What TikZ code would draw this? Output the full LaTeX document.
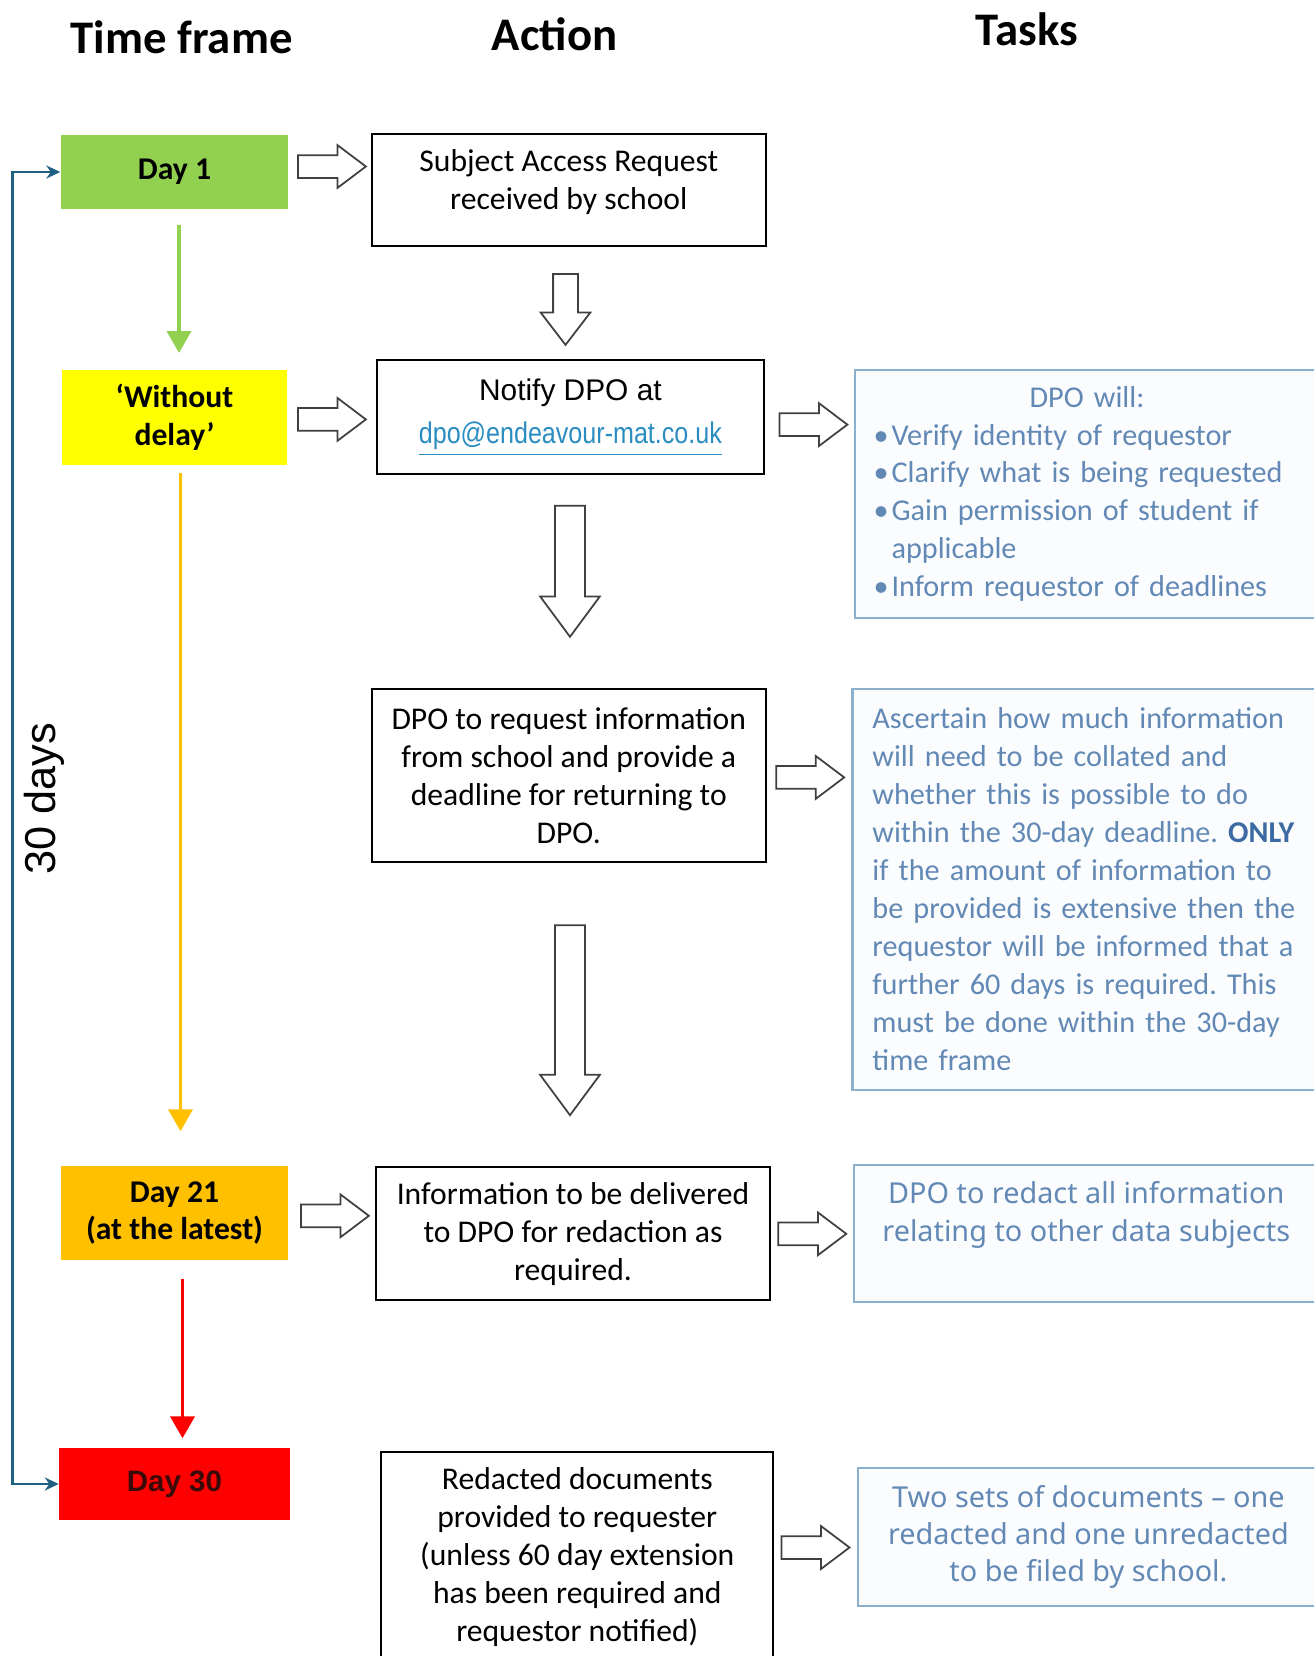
\documentclass[tikz,border=0pt]{standalone}
\usepackage{fontspec}
\setmainfont{Carlito}
\newfontfamily\arialfont{Liberation Sans}
\newfontfamily\narrowfont[FakeStretch=0.84]{Liberation Sans}
\newfontfamily\aptosfont{Noto Sans}
\usetikzlibrary{arrows.meta,shapes.arrows}

\definecolor{daygreen}{HTML}{92D050}
\definecolor{dayyellow}{HTML}{FFFF00}
\definecolor{dayorange}{HTML}{FFC000}
\definecolor{dayred}{HTML}{FF0000}
\definecolor{daydark}{HTML}{3A0A0A}
\definecolor{spanblue}{HTML}{1F5F82}
\definecolor{taskblue}{HTML}{6289B5}
\definecolor{taskdark}{HTML}{3C6AA3}
\definecolor{taskline}{HTML}{8AB0CE}
\definecolor{taskfill}{HTML}{FAFCFE}
\definecolor{linkblue}{HTML}{2A8CC0}

\newcommand{\taskbullet}{\makebox[1.8mm][l]{\textbullet}}

\tikzset{
  colhead/.style={font=\fontsize{13.3}{16}\selectfont\bfseries},
  daybox/.style={rectangle, inner sep=0pt, minimum width=2.27cm, align=center,
    font=\fontsize{9}{10.6}\selectfont\bfseries},
  actbox/.style={draw, line width=0.6pt, rectangle, inner sep=0pt, align=center,
    minimum width=3.94cm, font=\fontsize{9}{10.8}\selectfont},
  taskbox/.style={draw=taskline, fill=taskfill, text=taskblue, line width=0.6pt,
    rectangle, inner ysep=0pt, font=\fontsize{8.6}{10.8}\selectfont\frenchspacing},
  timearrow/.style={line width=1.1pt, -{Triangle[width=2.4mm,length=2.2mm]}},
  spanline/.style={draw=spanblue, line width=0.8pt, <->,
    >={Stealth[length=1.4mm,width=1.3mm]}},
  blockarrow/.style={single arrow, draw=black!75, fill=white, line width=0.5pt,
    inner xsep=0pt, minimum width=0pt, anchor=tail},
  rightarrow/.style={blockarrow, inner ysep=1.05mm, single arrow head extend=1mm,
    single arrow tip angle=74, minimum height=6.8mm},
  downarrow/.style={blockarrow, rotate=-90, inner ysep=1.42mm,
    single arrow head extend=1.48mm, single arrow tip angle=73}
}

\begin{document}
\begin{tikzpicture}
  \useasboundingbox (0,0) rectangle (13.14,-16.56);
  \clip (0,0) rectangle (13.14,-16.56);

  % column heads
  \node[colhead] (tframe) at (1.817,-0.37) {Time frame};
  \node[colhead] (action) at (5.546,-0.338) {Action};
  \node[colhead] (tasks) at (10.267,-0.296) {Tasks};

  % time frame column
  \node[daybox, fill=daygreen, minimum height=0.74cm] (day1) at (1.745,-1.72) {Day 1};
  \node[daybox, fill=dayyellow, minimum width=2.24cm, minimum height=0.95cm] (nodelay) at (1.745,-4.172) {‘Without\\delay’};
  \node[daybox, fill=dayorange, minimum height=0.94cm] (day21) at (1.745,-12.13) {Day 21\\(at the latest)};
  \node[daybox, fill=dayred, text=daydark, minimum width=2.30cm, minimum height=0.72cm,
    font=\arialfont\fontsize{8.4}{10}\selectfont\bfseries] (day30) at (1.745,-14.84) {Day 30};

  \draw[timearrow, daygreen, shorten <=1.5mm, shorten >=1.6mm]
    ([xshift=0.45mm]day1.south) -- ([xshift=0.45mm]nodelay.north);
  \draw[timearrow, dayorange, shorten <=0.8mm, shorten >=3.4mm]
    ([xshift=0.6mm]nodelay.south) -- ([xshift=0.6mm]day21.north);
  \draw[timearrow, dayred, shorten <=1.8mm, shorten >=0.9mm]
    ([xshift=0.8mm]day21.south) -- ([xshift=0.8mm]day30.north);

  % 30 day span
  \draw[spanline] (day1.west) -- ++(-0.48,0) |- (day30.west);
  \node[rotate=90, font=\arialfont\fontsize{12.3}{14}\selectfont] (spanlabel) at (0.444,-7.99) {30 days};

  % action column
  \node[actbox, minimum height=1.12cm] (sar) at (5.688,-1.901)
    {Subject Access Request\\received by school\\[-1.7mm]\mbox{}};
  \node[actbox, minimum width=3.866cm, minimum height=1.14cm,
    font=\arialfont\fontsize{8.5}{12.3}\selectfont] (notify) at (5.704,-4.173)
    {Notify DPO at\\{\narrowfont\color{linkblue}\underline{dpo@endeavour-mat.co.uk}}\\[-3.1mm]\mbox{}};
  \node[actbox, minimum height=1.733cm] (dporeq) at (5.688,-7.754)
    {DPO to request information\\from school and provide a\\deadline for returning to\\DPO.};
  \node[actbox, minimum height=1.331cm] (info) at (5.73,-12.338)
    {Information to be delivered\\to DPO for redaction as\\required.};
  \node[actbox, minimum width=3.92cm, minimum height=2.09cm] (redacted) at (5.773,-15.569)
    {Redacted documents\\provided to requester\\(unless 60 day extension\\has been required and\\requestor notified)};

  % tasks column
  \node[taskbox, anchor=west, align=left, text width=4.4cm, inner xsep=1.9mm,
    minimum height=2.483cm] (dpowill) at (8.535,-4.939)
    {\makebox[4.27cm]{DPO will:}\\
     \taskbullet Verify identity of requestor\\
     \taskbullet Clarify what is being requested\\
     \taskbullet Gain permission of student if\\
     \hspace*{1.8mm}applicable\\
     \taskbullet Inform requestor of deadlines};
  \node[taskbox, anchor=west, align=left, text width=4.6cm, inner xsep=2mm,
    minimum height=4.013cm] (ascertain) at (8.514,-8.894)
    {Ascertain how much information\\
     will need to be collated and\\
     whether this is possible to do\\
     within the 30-day deadline. \textbf{\color{taskdark}ONLY}\\
     if the amount of information to\\
     be provided is extensive then the\\
     requestor will be informed that a\\
     further 60 days is required. This\\
     must be done within the 30-day\\
     time frame};
  \node[taskbox, align=center, inner xsep=0pt, minimum width=4.655cm, minimum height=1.374cm,
    font=\aptosfont\fontsize{8.2}{10.6}\selectfont] (redact) at (10.863,-12.337)
    {DPO to redact all information\\relating to other data subjects\\[0.7mm]\mbox{}};
  \node[taskbox, align=center, inner xsep=0pt, minimum width=4.613cm, minimum height=1.373cm,
    font=\aptosfont\fontsize{8.2}{10.6}\selectfont] (twosets) at (10.884,-15.37)
    {Two sets of documents – one\\redacted and one unredacted\\to be filed by school.};

  % block arrows
  \node[rightarrow] (arrday1) at (2.97,-1.665) {};
  \node[rightarrow] (arrnodelay) at (2.97,-4.194) {};
  \node[rightarrow] (arrday21) at (3.00,-12.158) {};
  \node[rightarrow] (arrwill) at (7.785,-4.246) {};
  \node[rightarrow] (arrascertain) at (7.753,-7.774) {};
  \node[rightarrow] (arrredact) at (7.774,-12.338) {};
  \node[rightarrow] (arrtwosets) at (7.806,-15.475) {};

  \node[downarrow, inner ysep=1.15mm, single arrow head extend=1.25mm,
    single arrow tip angle=75, minimum height=7.1mm] (downsar) at (5.655,-2.73) {};
  \node[downarrow, minimum height=13.1mm] (downnotify) at (5.70,-5.049) {};
  \node[downarrow, minimum height=19mm] (downreq) at (5.70,-9.243) {};
\end{tikzpicture}
\end{document}
